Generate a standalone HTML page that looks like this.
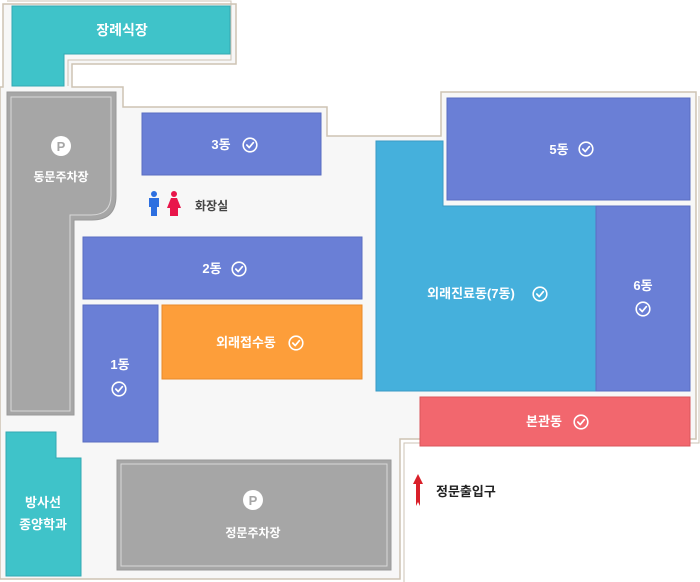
<!DOCTYPE html>
<html><head><meta charset="utf-8"><style>
html,body{margin:0;padding:0;background:#fff;}
svg{display:block;}
text{font-family:"Liberation Sans","Noto Sans CJK KR",sans-serif;font-weight:bold;}
</style></head><body>
<svg width="700" height="582" viewBox="0 0 700 582" xmlns="http://www.w3.org/2000/svg">
<defs>
<symbol id="chk" viewBox="-8 -8 16 16"><circle r="6.8" fill="none" stroke="#fff" stroke-width="1.6"/><path d="M-3.2 0 L-0.8 2.6 L3.4 -2.4" fill="none" stroke="#fff" stroke-width="1.7" stroke-linecap="round" stroke-linejoin="round"/></symbol>
</defs>
<!-- ground -->
<path d="M3 4 H236 V64 H72 V87 H123 V107 H327 V136 H441 V92 H696 V439 H400 V579 H0 V87 H3 Z" fill="#f7f7f7" stroke="#cdc3b4" stroke-width="1.5"/>
<path d="M7 1 H231 V60 H68 V86" fill="none" stroke="#cdc3b4" stroke-width="1"/>
<path d="M699 96 V443 H404 V582" fill="none" stroke="#cdc3b4" stroke-width="1"/>
<!-- 장례식장 -->
<path d="M12 6 H230 V54 H64 V86 H12 Z" fill="#3fc3c9" stroke="#33a9b3" stroke-width="1"/>
<text x="122" y="35" font-size="14" fill="#fff" text-anchor="middle">장례식장</text>
<!-- 동문주차장 -->
<path d="M7 92 H116 V196 Q116 220 92 220 H74 V415 H7 Z" fill="#a6a6a6" stroke="#999" stroke-width="1"/>
<path d="M11 97 H111 V195 Q111 215 91 215 H70 V411 H11 Z" fill="none" stroke="#d8d8d8" stroke-width="1"/>
<circle cx="61" cy="146" r="10" fill="#fff"/>
<text x="61" y="151" font-size="13" fill="#a6a6a6" text-anchor="middle">P</text>
<text x="61" y="181" font-size="12" fill="#fff" text-anchor="middle">동문주차장</text>
<!-- 3동 -->
<rect x="142" y="113" width="179" height="62" fill="#6a7fd6" stroke="#5a6ec2"/>
<text x="221" y="149" font-size="13" fill="#fff" text-anchor="middle">3동</text>
<use href="#chk" x="242" y="137" width="16" height="16"/>
<!-- toilets -->
<circle cx="154" cy="194" r="3" fill="#2d6fe0"/>
<path d="M149 198 H159 V207 H157 V216 H151 V207 H149 Z" fill="#2d6fe0"/>
<circle cx="174" cy="194" r="3" fill="#e8154a"/>
<path d="M171 198 H177 L181 208 H178 V216 H170 V208 H167 Z" fill="#e8154a"/>
<text x="195" y="210" font-size="12" fill="#444">화장실</text>
<!-- 2동 -->
<rect x="83" y="237" width="279" height="62" fill="#6a7fd6" stroke="#5a6ec2"/>
<text x="212" y="273" font-size="13" fill="#fff" text-anchor="middle">2동</text>
<use href="#chk" x="231" y="261" width="16" height="16"/>
<!-- 1동 -->
<rect x="83" y="305" width="75" height="137" fill="#6a7fd6" stroke="#5a6ec2"/>
<text x="120" y="369" font-size="13" fill="#fff" text-anchor="middle">1동</text>
<use href="#chk" x="111" y="381" width="16" height="16"/>
<!-- 외래접수동 -->
<rect x="162" y="305" width="200" height="74" fill="#fd9e3a" stroke="#e88a2a"/>
<text x="246" y="347" font-size="13" fill="#fff" text-anchor="middle">외래접수동</text>
<use href="#chk" x="288" y="335" width="16" height="16"/>
<!-- 외래진료동 -->
<path d="M376 141 H443 V206 H596 V391 H376 Z" fill="#45b0dc" stroke="#3a9ac4"/>
<text x="471" y="298" font-size="13" fill="#fff" text-anchor="middle">외래진료동(7동)</text>
<use href="#chk" x="532" y="286" width="16" height="16"/>
<!-- 5동 -->
<rect x="447" y="98" width="243" height="102" fill="#6a7fd6" stroke="#5a6ec2"/>
<text x="559" y="154" font-size="13" fill="#fff" text-anchor="middle">5동</text>
<use href="#chk" x="578" y="141" width="16" height="16"/>
<!-- 6동 -->
<rect x="596" y="206" width="94" height="185" fill="#6a7fd6" stroke="#5a6ec2"/>
<text x="643" y="290" font-size="13" fill="#fff" text-anchor="middle">6동</text>
<use href="#chk" x="635" y="301" width="16" height="16"/>
<!-- 본관동 -->
<rect x="420" y="397" width="270" height="49" fill="#f2676e" stroke="#d9545b"/>
<text x="544" y="426" font-size="13" fill="#fff" text-anchor="middle">본관동</text>
<use href="#chk" x="573" y="414" width="16" height="16"/>
<!-- 방사선종양학과 -->
<path d="M6 432 H56 V458 H81 V576 H6 Z" fill="#3fc3c9" stroke="#33a9b3"/>
<text x="43" y="507" font-size="13" fill="#fff" text-anchor="middle">방사선</text>
<text x="43" y="529" font-size="13" fill="#fff" text-anchor="middle">종양학과</text>
<!-- 정문주차장 -->
<rect x="117" y="460" width="274" height="110" fill="#a6a6a6" stroke="#999"/>
<rect x="121" y="464" width="266" height="102" fill="none" stroke="#d8d8d8"/>
<circle cx="253" cy="500" r="10" fill="#fff"/>
<text x="253" y="505" font-size="13" fill="#a6a6a6" text-anchor="middle">P</text>
<text x="253" y="537" font-size="12" fill="#fff" text-anchor="middle">정문주차장</text>
<!-- entrance arrow -->
<path d="M418 474 L423 484 H420 V506 L418 502 L416 506 V484 H413 Z" fill="#d9202a"/>
<text x="436" y="496" font-size="13" fill="#222">정문출입구</text>
</svg>
</body></html>
